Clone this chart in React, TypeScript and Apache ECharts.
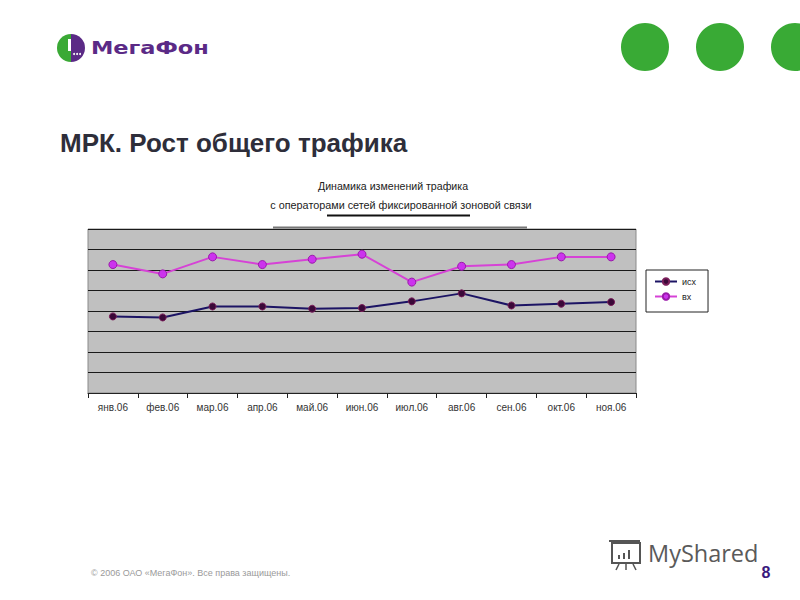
import React, { useEffect, useRef } from "react";
import * as echarts from "echarts";

const months = ["янв.06", "фев.06", "мар.06", "апр.06", "май.06", "июн.06", "июл.06", "авг.06", "сен.06", "окт.06", "ноя.06"];
const outgoing = [74.7, 73.7, 84.4, 84.4, 82.2, 82.9, 89.4, 97.2, 85.4, 87.1, 88.7];
const incoming = [125.3, 116.2, 132.8, 125.3, 130.5, 135.4, 108.2, 123.6, 125.3, 132.8, 132.8];
const seriesNames = ["исх", "вх"];
const chartTitle = ["Динамика изменений трафика", "с операторами сетей фиксированной зоновой связи"];
const slideTitle = "МРК. Рост общего трафика";
const footer = "© 2006 ОАО «МегаФон». Все права защищены.";

export default function App() {
  const ref = useRef<HTMLDivElement>(null);
  useEffect(() => {
    document.body.style.margin = "0";
    const chart = echarts.init(ref.current!, null, { renderer: "svg" });
    chart.setOption({
      animation: false,
      backgroundColor: "#ffffff",
      grid: {
        left: 88,
        right: 164,
        top: 229,
        bottom: 207,
        show: true,
        backgroundColor: "#c0c0c0",
        borderColor: "#8a8a8a",
        borderWidth: 1,
      },
      xAxis: {
        type: "category",
        data: months,
        boundaryGap: true,
        axisLine: { lineStyle: { color: "#222", width: 1 } },
        axisTick: { show: true, length: 5, lineStyle: { color: "#222" } },
        axisLabel: { color: "#333", fontSize: 10, fontFamily: "Liberation Sans, Arial", margin: 9 },
      },
      yAxis: {
        type: "value",
        min: 0,
        max: 160,
        interval: 20,
        axisLabel: { show: false },
        axisLine: { show: false },
        axisTick: { show: false },
        splitLine: { lineStyle: { color: "#1a1a1a", width: 1 } },
      },
      legend: {
        orient: "vertical",
        left: 646,
        top: 270,
        itemWidth: 22,
        itemHeight: 8,
        itemGap: 6,
        padding: [7, 12, 11, 8],
        borderColor: "#222",
        borderWidth: 1,
        backgroundColor: "#ffffff",
        textStyle: { fontSize: 9, color: "#222", fontFamily: "Liberation Sans, Arial" },
        data: seriesNames,
      },
      series: [
        {
          name: seriesNames[0],
          type: "line",
          data: outgoing,
          symbol: "circle",
          symbolSize: 7,
          lineStyle: { color: "#1c1464", width: 2 },
          itemStyle: { color: "#3a0838", borderColor: "#7a1e5a", borderWidth: 1 },
        },
        {
          name: seriesNames[1],
          type: "line",
          data: incoming,
          symbol: "circle",
          symbolSize: 8,
          lineStyle: { color: "#d642d6", width: 2 },
          itemStyle: { color: "#cc33ee", borderColor: "#9a1aaa", borderWidth: 1 },
        },
      ],
      graphic: [
        { type: "circle", shape: { cx: 645, cy: 47, r: 24 }, style: { fill: "#39aa35" } },
        { type: "circle", shape: { cx: 720, cy: 47, r: 24 }, style: { fill: "#39aa35" } },
        { type: "circle", shape: { cx: 795, cy: 47, r: 24 }, style: { fill: "#39aa35" } },
        { type: "sector", shape: { cx: 71, cy: 48, r0: 0, r: 14, startAngle: Math.PI / 2, endAngle: (3 * Math.PI) / 2 }, style: { fill: "#3aa935" } },
        { type: "sector", shape: { cx: 71, cy: 48, r0: 0, r: 14, startAngle: -Math.PI / 2, endAngle: Math.PI / 2 }, style: { fill: "#5b2a86" } },
        { type: "rect", shape: { x: 68, y: 39, width: 3, height: 12 }, style: { fill: "#ffffff" } },
        { type: "circle", shape: { cx: 74, cy: 54, r: 1 }, style: { fill: "#ffffff" } },
        { type: "circle", shape: { cx: 77, cy: 54, r: 1 }, style: { fill: "#ffffff" } },
        { type: "circle", shape: { cx: 80, cy: 54, r: 1 }, style: { fill: "#ffffff" } },
        {
          type: "text",
          x: 91,
          y: 48,
          scaleX: 1.25,
          style: { text: "МегаФон", fill: "#5b2a86", font: "bold 18px 'DejaVu Sans', sans-serif", textVerticalAlign: "middle" },
        },
        {
          type: "text",
          x: 60,
          y: 143,
          style: { text: slideTitle, fill: "#2e2e3a", font: "bold 26px 'Liberation Sans', Arial, sans-serif", textVerticalAlign: "middle" },
        },
        {
          type: "text",
          x: 393,
          y: 186,
          style: { text: chartTitle[0], fill: "#222", font: "10.6px 'Liberation Sans', Arial, sans-serif", textAlign: "center", textVerticalAlign: "middle" },
        },
        {
          type: "text",
          x: 401,
          y: 205,
          style: { text: chartTitle[1], fill: "#222", font: "10.8px 'Liberation Sans', Arial, sans-serif", textAlign: "center", textVerticalAlign: "middle" },
        },
        { type: "line", shape: { x1: 327, y1: 215.5, x2: 470, y2: 215.5 }, style: { stroke: "#111", lineWidth: 2 } },
        { type: "line", shape: { x1: 273, y1: 227.5, x2: 527, y2: 227.5 }, style: { stroke: "#777", lineWidth: 2 }, z: 100 },
        {
          type: "text",
          x: 91,
          y: 573,
          style: { text: footer, fill: "#9a9a9a", font: "9px 'Liberation Sans', Arial, sans-serif", textVerticalAlign: "middle" },
        },
        {
          type: "text",
          x: 766,
          y: 572,
          style: { text: "8", fill: "#3a1a7e", font: "bold 16px 'Liberation Sans', Arial, sans-serif", textAlign: "center", textVerticalAlign: "middle" },
        },
        // MyShared icon
        { type: "rect", shape: { x: 612, y: 543, width: 28, height: 20 }, style: { fill: "none", stroke: "#555", lineWidth: 2 } },
        { type: "line", shape: { x1: 609, y1: 541, x2: 640, y2: 541 }, style: { stroke: "#555", lineWidth: 2 } },
        { type: "rect", shape: { x: 618, y: 555, width: 2, height: 4 }, style: { fill: "#555" } },
        { type: "rect", shape: { x: 623, y: 553, width: 2, height: 6 }, style: { fill: "#555" } },
        { type: "rect", shape: { x: 628, y: 550, width: 2, height: 9 }, style: { fill: "#555" } },
        { type: "line", shape: { x1: 619, y1: 564, x2: 616, y2: 570 }, style: { stroke: "#555", lineWidth: 1.5 } },
        { type: "line", shape: { x1: 626, y1: 564, x2: 626, y2: 570 }, style: { stroke: "#555", lineWidth: 1.5 } },
        { type: "line", shape: { x1: 633, y1: 564, x2: 636, y2: 570 }, style: { stroke: "#555", lineWidth: 1.5 } },
        {
          type: "text",
          x: 648,
          y: 553,
          style: { text: "MyShared", fill: "#5a5a5a", font: "23.5px 'Open Sans', sans-serif", textVerticalAlign: "middle" },
        },
      ],
    });
    return () => chart.dispose();
  }, []);
  return <div ref={ref} style={{ position: "absolute", left: 0, top: 0, width: 800, height: 600 }} />;
}
